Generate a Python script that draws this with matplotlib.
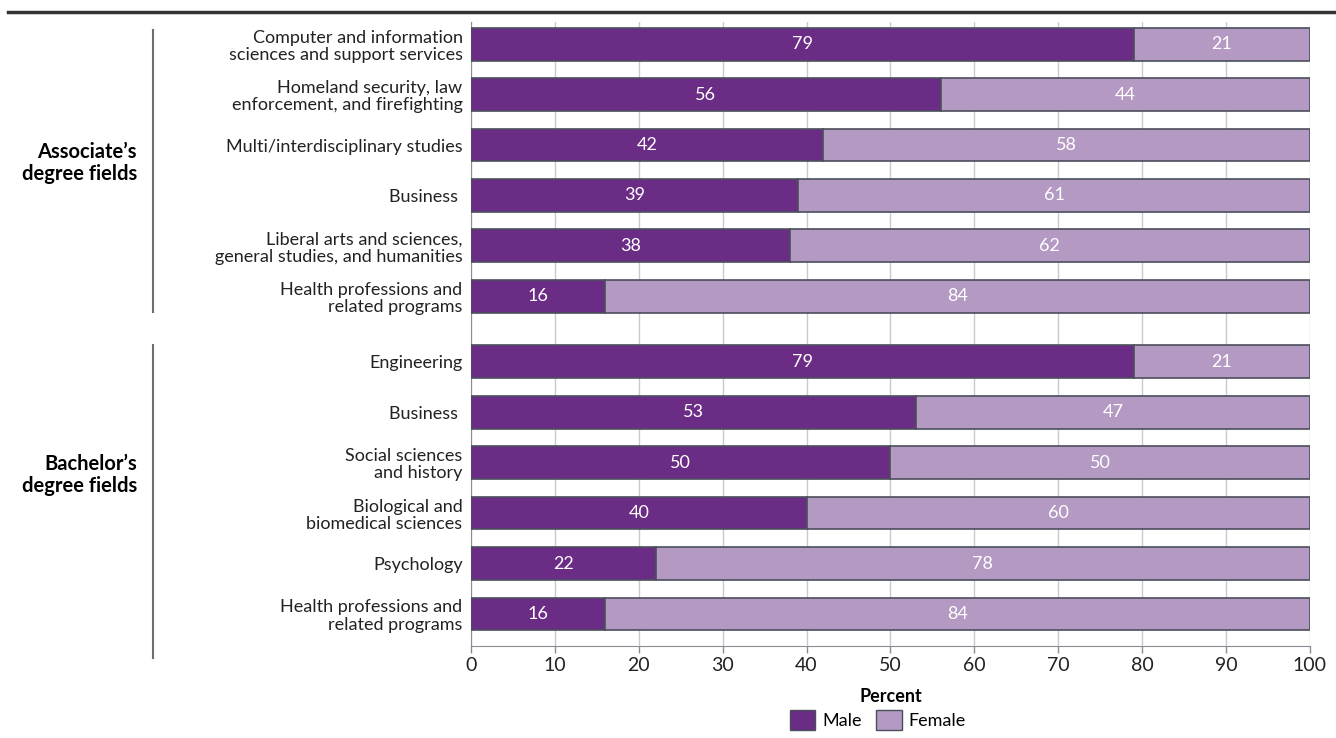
import matplotlib.pyplot as plt
from matplotlib.lines import Line2D
from matplotlib.patches import Patch
import numpy as np

plt.rcParams['font.family'] = ['Lato', 'DejaVu Sans']

assoc_fields = ['Computer and information\nsciences and support services',
                'Homeland security, law\nenforcement, and firefighting',
                'Multi/interdisciplinary studies',
                'Business ',
                'Liberal arts and sciences,\ngeneral studies, and humanities',
                'Health professions and\nrelated programs']
assoc_male = [79, 56, 42, 39, 38, 16]
assoc_female = [21, 44, 58, 61, 62, 84]

bach_fields = ['Engineering',
               'Business ',
               'Social sciences\nand history',
               'Biological and\nbiomedical sciences',
               'Psychology',
               'Health professions and\nrelated programs']
bach_male = [79, 53, 50, 40, 22, 16]
bach_female = [21, 47, 50, 60, 78, 84]

group_labels = ['Associate\u2019s\ndegree fields', 'Bachelor\u2019s\ndegree fields']
ticks = [0, 10, 20, 30, 40, 50, 60, 70, 80, 90, 100]

MALE_C = '#6a2c84'
FEMALE_C = '#b49ac3'
EDGE_C = '#4b4f5c'
FS = 13

labels = assoc_fields + bach_fields
male = np.array(assoc_male + bach_male)
female = np.array(assoc_female + bach_female)
ypos = np.concatenate([np.arange(6), np.arange(6) + 6.3])

fig = plt.figure(figsize=(13.36, 7.38), dpi=100)
ax = fig.add_axes([0.3525, 0.1247, 0.628, 0.8455])

ax.barh(ypos, male, height=0.65, color=MALE_C, edgecolor=EDGE_C, linewidth=1.2, zorder=3)
ax.barh(ypos, female, left=male, height=0.65, color=FEMALE_C, edgecolor=EDGE_C,
        linewidth=1.2, zorder=3)

for y, m, f in zip(ypos, male, female):
    ax.text(m / 2, y, str(m), ha='center', va='center', color='white', fontsize=FS, zorder=4)
    ax.text(m + f / 2, y, str(f), ha='center', va='center', color='white', fontsize=FS, zorder=4)

ax.set_xlim(0, 100)
ax.set_ylim(11.3 + 0.635, -0.44)
ax.set_yticks(ypos)
ax.set_yticklabels(labels, fontsize=FS, color='#222222', linespacing=1.1)
ax.tick_params(axis='y', length=0, pad=6)
ax.set_xticks(ticks)
ax.tick_params(axis='x', length=5, width=1, color='#8a8d96', labelsize=FS + 1,
               labelcolor='#222222', pad=3)
ax.xaxis.grid(True, color='#c8cad0', linewidth=1, zorder=0)
for s in ['top', 'right']:
    ax.spines[s].set_visible(False)
ax.spines['left'].set_color('#8a8d96')
ax.spines['bottom'].set_color('#8a8d96')

ax.set_xlabel('Percent', fontsize=FS, fontweight='bold', labelpad=10)

# group brackets and labels
fig.add_artist(Line2D([153 / 1336, 153 / 1336], [1 - 30 / 738, 1 - 312 / 738],
                      color='#6a6d76', linewidth=1.5))
fig.add_artist(Line2D([153 / 1336, 153 / 1336], [1 - 345 / 738, 1 - 658 / 738],
                      color='#6a6d76', linewidth=1.5))
fig.text(137 / 1336, 1 - 163 / 738, group_labels[0], ha='right', va='center',
         fontsize=FS + 1.5, fontweight='bold', linespacing=1.15)
fig.text(137 / 1336, 1 - 475 / 738, group_labels[1], ha='right', va='center',
         fontsize=FS + 1.5, fontweight='bold', linespacing=1.15)

# top rule
fig.add_artist(Line2D([8 / 1336, 1], [1 - 12 / 738, 1 - 12 / 738], color='#333333', linewidth=2.5))

handles = [Patch(facecolor=MALE_C, edgecolor=EDGE_C), Patch(facecolor=FEMALE_C, edgecolor=EDGE_C)]
fig.legend(handles, ['Male', 'Female'], loc='center', bbox_to_anchor=(878 / 1336, 1 - 720 / 738),
           ncol=2, frameon=False, fontsize=FS, handlelength=1.4, handleheight=1.4,
           handletextpad=0.4, columnspacing=0.8)

fig.savefig('out.png', dpi=100)
